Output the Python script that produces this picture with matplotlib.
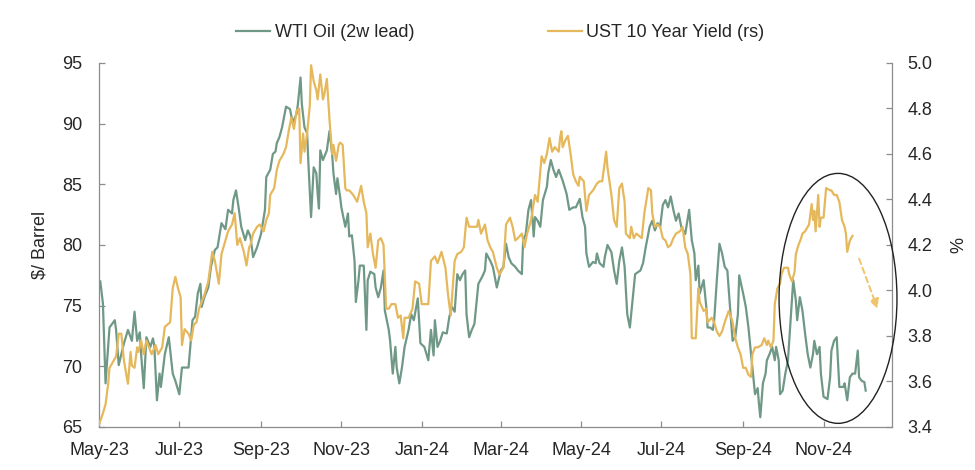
import numpy as np
import pandas as pd
import matplotlib
matplotlib.use("Agg")
import matplotlib.pyplot as plt
import matplotlib.dates as mdates
from matplotlib.patches import Ellipse

plt.rcParams['font.family'] = ['Liberation Sans', 'DejaVu Sans']

BASE = pd.Timestamp("2023-05-01")

# WTI Oil (2w lead), $/barrel — x as days since 2023-05-01
wti_days = [1, 3, 5, 8, 12, 13, 15, 17, 19, 22, 25, 27, 29, 31, 32, 34, 36, 39, 41, 42, 44, 46, 47, 50,
            53, 56, 58, 61, 63, 66, 68, 71, 73, 75, 77, 78, 80, 83, 85, 88, 90, 93, 96, 98, 101, 102, 104,
            106, 108, 111, 113,
            115, 117, 120, 123, 126, 127, 130, 132, 134, 135, 137, 139, 142, 145, 147, 150, 151, 153, 154,
            156, 158, 159, 161, 163, 165, 166, 167, 168, 170, 173, 175, 177, 178, 180, 181, 183, 184, 187,
            189, 190, 192, 194, 195, 197, 198, 201, 203, 204, 206, 209, 210, 212, 214, 216, 217, 220, 221,
            223, 225, 226, 228, 230, 232,
            235, 237, 239, 242, 244, 247, 250, 252, 254, 255, 257, 259, 261, 264, 266, 268, 270, 272, 274,
            276, 278, 279, 281, 283, 285, 288, 291, 293, 294, 297, 299, 302, 305, 307, 309, 311, 313, 316,
            318, 321, 322, 324, 326, 328, 330, 331, 333, 335, 337, 340, 341, 343, 345, 347, 349,
            352, 355, 357, 360, 362, 365, 367, 369, 370, 372, 375, 377, 378, 380, 383, 384, 386, 389, 391,
            393, 395, 397, 399, 401, 403, 405, 407, 411, 413, 415, 418, 420, 422, 424, 426, 428, 430, 432,
            434, 436, 438, 440, 442, 445, 448, 450, 452, 453, 455, 456, 459, 461, 462, 464, 466, 467, 469,
            471, 473, 475, 477, 479, 481, 483, 485, 486, 488, 489, 491, 493, 495, 497, 498, 500, 501, 502,
            504, 506, 507, 509, 511, 513, 514, 516, 517, 519, 521, 523, 525, 527, 529, 530, 532, 534, 536,
            538, 540, 542, 543, 545, 547, 548, 550, 553, 555, 556, 558, 560, 562, 565, 566, 568, 570, 572,
            574, 576, 577, 579, 581, 582]
wti_vals = [77.0, 75.2, 68.6, 73.2, 73.8, 73.0, 70.1, 71.0, 71.9, 73.0, 72.1, 74.5, 72.1, 72.8, 71.0,
            68.2, 72.4, 71.6, 72.3, 71.7, 67.2, 69.4, 68.3, 71.0, 72.4, 69.4, 68.8, 67.7, 69.9, 69.9, 69.9,
            73.8, 74.1, 76.0, 76.8, 74.9, 75.7, 76.5, 78.2, 79.6, 79.8, 81.8, 81.3, 82.9, 82.6, 83.7, 84.5,
            83.1, 81.5, 80.4, 81.2,
            80.7, 79.0, 79.8, 80.9, 82.9, 85.6, 86.2, 87.5, 87.7, 88.4, 88.9, 89.7, 91.4, 91.2, 90.1, 90.8,
            91.6, 93.8, 91.6, 89.7, 89.2, 86.7, 82.3, 86.4, 85.9, 84.2, 83.0, 87.8, 87.0, 87.8, 89.4, 87.5,
            85.9, 84.2, 85.5, 84.0, 83.1, 81.5, 82.6, 80.7, 80.8, 78.7, 75.3, 77.1, 78.3, 78.3, 73.0, 77.1,
            77.8, 77.6, 76.5, 75.7, 76.5, 77.9, 74.6, 73.0, 72.1, 69.4, 71.6, 69.9, 68.6, 69.9, 71.6,
            73.0, 74.3, 73.8, 75.6, 71.9, 71.6, 70.5, 73.0, 70.9, 73.8, 71.6, 72.1, 72.8, 72.7, 74.1, 74.9,
            74.5, 77.6, 77.1, 77.6, 77.9, 74.3, 72.4, 73.0, 73.5, 76.8, 77.4, 77.9, 79.3, 78.7, 78.2, 76.5,
            77.9, 78.2, 80.1, 79.0, 78.5, 78.2, 77.9, 77.6, 80.4, 80.9, 82.9, 83.7, 80.7, 82.3, 82.0, 81.5,
            83.7, 84.8, 85.9, 87.0, 86.2, 85.6, 86.2,
            85.3, 84.2, 82.9, 83.1, 83.1, 83.8, 82.3, 81.5, 79.3, 78.2, 78.6, 78.5, 79.3, 78.5, 78.2, 79.0,
            80.0, 79.4, 77.9, 76.8, 78.7, 79.8, 78.2, 74.3, 73.2, 75.4, 77.6, 77.9, 78.5, 79.8, 81.5, 82.0,
            81.2, 81.8, 81.5, 83.3, 83.7, 83.1, 84.0, 82.9, 82.0, 82.6, 81.5, 80.9, 82.9, 80.4, 79.3, 77.1,
            78.3, 76.0, 77.1, 74.9, 73.2, 73.2, 73.0, 73.8, 77.1,
            80.1, 79.3, 78.2, 77.9, 74.9, 72.1, 72.4, 74.3, 77.5, 76.5, 76.0, 74.9, 73.2, 71.0, 68.8, 67.7,
            68.2, 66.9, 65.8, 68.6, 69.4, 70.5, 71.0, 71.6, 70.5, 71.6, 70.5, 67.7, 68.0, 69.4, 70.5, 73.8,
            77.1, 75.4, 73.8, 75.7, 74.6, 72.7, 71.0, 69.9, 71.0, 72.1, 71.0, 71.6, 69.4, 67.5, 67.3, 69.1,
            71.3, 72.1, 72.4, 68.3, 68.3, 68.6, 67.2, 69.1, 69.4, 69.4, 71.3, 69.1, 68.8, 68.7, 68.0]

# UST 10 Year Yield (rs), % — x as days since 2023-05-01
ust_days = [0, 3, 5, 7, 8, 11, 13, 15, 17, 19, 22, 24, 25, 27, 29, 30, 32, 34, 36, 38, 40, 43, 45, 48,
            50, 54, 56, 58, 60, 62, 63, 65, 68, 70, 72, 74, 76, 78, 80, 83, 86, 88, 91, 93, 95, 98, 101,
            103, 105, 107, 110, 112, 114,
            115, 117, 120, 122, 125, 127, 129, 130, 133, 135, 137, 140, 142, 144, 146, 148, 150, 152, 153,
            155, 156, 158, 160, 161, 163, 165, 166, 168, 170, 171, 173, 175, 177, 178, 180, 182, 183, 185,
            187, 188, 190, 193, 196, 199, 201, 203, 204, 206, 208, 210, 212, 214, 216, 218, 220, 222, 225,
            227, 229, 231,
            232, 235, 238, 240, 243, 245, 250, 252, 255, 257, 260, 263, 265, 267, 270, 272, 275, 277, 279,
            281, 284, 287, 288, 290, 293, 295, 297, 299, 302, 304, 307, 309, 312, 314, 316, 318, 321, 323,
            325, 328, 331, 333, 336, 338, 340, 342, 344, 346, 349,
            350, 351, 352, 354, 356, 358, 360, 362, 364, 365, 368, 370, 372, 375, 378, 380, 382, 385, 386,
            389, 391, 393, 395, 397, 399, 400, 403, 404, 406, 408, 412, 414, 417, 419, 420, 422, 424, 426,
            428, 430, 432, 434, 436, 438, 441, 443, 445, 447, 449, 450, 453, 455, 456, 459, 461, 462, 465,
            467,
            469, 471, 473, 475, 478, 480, 481, 483, 485, 487, 489, 491, 493, 495, 496, 498, 500, 503, 505,
            507, 508, 510, 512, 513, 515, 517, 518, 520, 523, 524, 526, 528, 529, 531, 533, 534, 536, 538,
            539, 541, 542, 543, 544, 546, 547, 548, 550, 552, 555, 556, 558, 560, 562, 564, 566, 567, 568,
            570, 572]
ust_vals = [3.41, 3.46, 3.50, 3.59, 3.66, 3.69, 3.71, 3.81, 3.81, 3.69, 3.59, 3.73, 3.67, 3.66, 3.75,
            3.73, 3.78, 3.72, 3.78, 3.75, 3.72, 3.76, 3.72, 3.75, 3.84, 3.86, 4.01, 4.06, 4.01, 3.97, 3.76,
            3.83, 3.81, 3.78, 3.85, 3.86, 3.92, 3.95, 3.98, 4.04, 4.17, 4.13, 4.03, 4.16, 4.20, 4.26, 4.29,
            4.34, 4.20, 4.23, 4.17, 4.11, 4.19,
            4.20, 4.25, 4.28, 4.29, 4.26, 4.31, 4.34, 4.42, 4.45, 4.53, 4.57, 4.60, 4.63, 4.70, 4.76, 4.71,
            4.79, 4.80, 4.56, 4.69, 4.61, 4.69, 4.81, 4.99, 4.92, 4.88, 4.84, 4.95, 4.84, 4.86, 4.93, 4.75,
            4.60, 4.64, 4.57, 4.64, 4.65, 4.64, 4.45, 4.44, 4.44, 4.42, 4.39, 4.46, 4.39, 4.34, 4.19, 4.25,
            4.16, 4.10, 4.22, 4.23, 4.20, 3.92, 3.92, 3.94, 3.94, 3.88, 3.89, 3.79,
            3.88, 3.88, 3.92, 4.04, 4.03, 3.94, 3.94, 4.13, 4.15, 4.12, 4.17, 4.10, 3.98, 3.89, 4.13, 4.16,
            4.17, 4.19, 4.32, 4.28, 4.28, 4.28, 4.31, 4.25, 4.29, 4.22, 4.19, 4.17, 4.10, 4.07, 4.10, 4.29,
            4.32, 4.28, 4.22, 4.23, 4.25, 4.19, 4.25, 4.31, 4.42, 4.39, 4.59, 4.56, 4.60, 4.67, 4.61, 4.63,
            4.61,
            4.67, 4.70, 4.63, 4.66, 4.68, 4.60, 4.51, 4.48, 4.46, 4.50, 4.48, 4.35, 4.42, 4.44, 4.47, 4.48,
            4.48, 4.61, 4.54, 4.42, 4.31, 4.28, 4.45, 4.47, 4.39, 4.25, 4.23, 4.28, 4.23, 4.25, 4.23, 4.34,
            4.45, 4.44, 4.34, 4.28, 4.29, 4.28, 4.23, 4.22, 4.19, 4.20, 4.23, 4.25, 4.26, 4.28, 4.19, 4.16,
            4.07, 3.79, 3.79, 4.01, 3.95, 3.91, 3.92, 3.86, 3.88, 3.86,
            3.82, 3.80, 3.82, 3.86, 3.91, 3.88, 3.86, 3.79, 3.75, 3.72, 3.66, 3.66, 3.63, 3.62, 3.72, 3.75,
            3.75, 3.76, 3.79, 3.76, 3.78, 3.75, 3.78, 3.94, 4.01, 4.03, 4.07, 4.10, 4.10, 4.07, 4.04, 4.08,
            4.16, 4.20, 4.23, 4.25, 4.26, 4.28, 4.29, 4.38, 4.31, 4.35, 4.26, 4.42, 4.28, 4.32, 4.32, 4.45,
            4.44, 4.44, 4.42, 4.42, 4.39, 4.31, 4.28, 4.25, 4.17, 4.22, 4.24]

wti_labels = "WTI Oil (2w lead)"
ust_labels = "UST 10 Year Yield (rs)"

GREEN = "#6F9886"
YELLOW = "#E6B85C"
AXIS_GREY = "#8C8C8C"
TEXT = "#262626"

wti_dates = BASE + pd.to_timedelta(wti_days, unit="D")
ust_dates = BASE + pd.to_timedelta(ust_days, unit="D")

fig = plt.figure(figsize=(9.75, 4.7), dpi=100)
ax = fig.add_axes([0.1015, 0.0915, 0.9149 - 0.1015, 0.866 - 0.0915])
ax2 = ax.twinx()

l1, = ax.plot(wti_dates, wti_vals, color=GREEN, lw=1.6, label=wti_labels)
l2, = ax2.plot(ust_dates, ust_vals, color=YELLOW, lw=1.6, label=ust_labels)

ax.set_xlim(pd.Timestamp("2023-05-01"), pd.Timestamp("2024-12-23"))
ax.set_ylim(65, 95)
ax.set_yticks([65, 70, 75, 80, 85, 90, 95])
ax2.set_ylim(3.4, 5.0)
ax2.set_yticks([3.4, 3.6, 3.8, 4.0, 4.2, 4.4, 4.6, 4.8, 5.0])
ax2.yaxis.set_major_formatter(matplotlib.ticker.FormatStrFormatter('%.1f'))

ax.xaxis.set_major_locator(mdates.MonthLocator(bymonth=[1, 3, 5, 7, 9, 11]))
ax.xaxis.set_major_formatter(mdates.DateFormatter('%b-%y'))

for a in (ax, ax2):
    for s in a.spines.values():
        s.set_color(AXIS_GREY)
        s.set_linewidth(0.9)
    a.spines['top'].set_visible(False)
ax.spines['right'].set_visible(False)
ax2.spines['left'].set_visible(False)
ax2.spines['bottom'].set_visible(False)

ax.tick_params(axis='y', direction='in', length=4, width=0.9, color=AXIS_GREY,
               labelsize=13, labelcolor=TEXT, pad=12)
ax.tick_params(axis='x', direction='in', length=4, width=0.9, color=AXIS_GREY,
               labelsize=13, labelcolor=TEXT, pad=10.5)
ax2.tick_params(axis='y', direction='in', length=4, width=0.9, color=AXIS_GREY,
                labelsize=13, labelcolor=TEXT, pad=11)

ax.set_ylabel("$/ Barrel", fontsize=13, color=TEXT, labelpad=10)
ax2.set_ylabel("%", fontsize=13, color=TEXT, labelpad=13)

# annotation: ellipse and dashed arrow
ell = Ellipse((mdates.date2num(pd.Timestamp("2024-11-12")), 75.6), width=89.5, height=20.6,
              transform=ax.transData, fill=False, edgecolor="#222222", lw=1.0, clip_on=False, zorder=5)
ax2.add_patch(ell)
ax2.annotate("", xy=(pd.Timestamp("2024-12-12"), 3.92), xytext=(pd.Timestamp("2024-11-28"), 4.14),
             arrowprops=dict(arrowstyle='-|>', linestyle=(0, (3, 2)), color="#EFC46A", lw=1.4,
                             mutation_scale=14, shrinkA=0, shrinkB=0),
             annotation_clip=False)

fig.legend(handles=[l1, l2], loc='center', bbox_to_anchor=(0.513, 0.93), ncol=2, frameon=False,
           fontsize=13, handlelength=1.9, handletextpad=0.25, columnspacing=7.4, labelcolor=TEXT)

fig.savefig("out.png", dpi=100)
